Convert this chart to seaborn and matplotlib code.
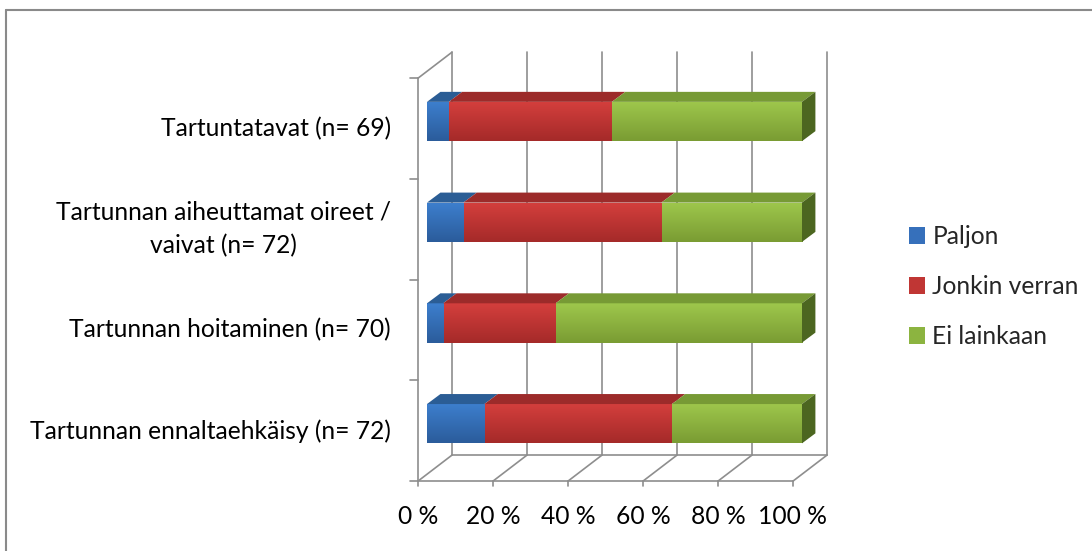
import matplotlib
matplotlib.use("Agg")
import numpy as np
import pandas as pd
import matplotlib.pyplot as plt
from matplotlib.patches import Polygon, Patch
from matplotlib.lines import Line2D
from matplotlib.colors import LinearSegmentedColormap
import seaborn as sns

# data (share of answers, %)
categories = [
    "Tartuntatavat (n= 69)",
    "Tartunnan aiheuttamat oireet /\nvaivat (n= 72)",
    "Tartunnan hoitaminen (n= 70)",
    "Tartunnan ennaltaehkäisy (n= 72)",
]
series_names = ["Paljon", "Jonkin verran", "Ei lainkaan"]
paljon = [5.8, 9.7, 4.3, 15.3]
jonkin_verran = [43.5, 52.8, 30.0, 50.0]
ei_lainkaan = [50.7, 37.5, 65.7, 34.7]
x_ticks = [0, 20, 40, 60, 80, 100]
x_tick_labels = ["0 %", "20 %", "40 %", "60 %", "80 %", "100 %"]

# colours: (front top, front bottom, top face)
COLORS = {
    "Paljon": ("#3d7fce", "#2b5c9b", "#2b5d95"),
    "Jonkin verran": ("#d43f3d", "#a52a29", "#9c2b2a"),
    "Ei lainkaan": ("#9ec74c", "#7a9c33", "#779a35"),
}
LEGEND_COLORS = {"Paljon": "#3670bb", "Jonkin verran": "#c03634", "Ei lainkaan": "#8cb440"}
END_FACE = "#4c6620"
GRID = "#8e8e8e"
FONT = "Lato"
FS = 17.7

W, H = 1092, 551
X0_PX, SX = 427.0, 3.75       # pixel of 0 %, pixels per percent
Y0_PX, SY = 121.5, 100.73     # pixel of first category centre, pixels per category
BAR_H = 0.39
DX, DY = 13.4 / SX, -10.0 / SY        # bar depth
FX, FY = -9.0 / SX, 0.07              # front plane offset from bar front
BX, BY = FX + 34.0 / SX, FY - 26.0 / SY  # back wall offset

sns.set_theme(style="white")
plt.rcParams["font.family"] = [FONT, "DejaVu Sans"]

df = pd.DataFrame({
    "category": categories,
    "Paljon": paljon,
    "Jonkin verran": jonkin_verran,
    "Ei lainkaan": ei_lainkaan,
})
df["cum1"] = df["Paljon"]
df["cum2"] = df["cum1"] + df["Jonkin verran"]
df["cum3"] = df["cum2"] + df["Ei lainkaan"]

fig = plt.figure(figsize=(W / 100, H / 100), dpi=100)
ax = fig.add_axes([0, 0, 1, 1])

# stacked bars: draw the totals first, then the shorter parts over them
layers = [("cum3", "Ei lainkaan", 3.0), ("cum2", "Jonkin verran", 3.2), ("cum1", "Paljon", 3.4)]
for col, name, z in layers:
    n_before = len(ax.patches)
    sns.barplot(data=df, x=col, y="category", orient="h", color=COLORS[name][0],
                width=BAR_H, saturation=1, zorder=z, edgecolor="none", linewidth=0, ax=ax)
    cmap = LinearSegmentedColormap.from_list(name, [COLORS[name][0], COLORS[name][1]])
    grad = np.linspace(0, 1, 64).reshape(-1, 1)
    for p in ax.patches[n_before:]:
        x, y, w, h = p.get_x(), p.get_y(), p.get_width(), p.get_height()
        im = ax.imshow(grad, cmap=cmap, aspect="auto", extent=(x, x + w, y + h, y),
                       zorder=z + 0.05, interpolation="bilinear")
        im.set_clip_path(p)

# 3d faces of the bars
for i in range(len(categories)):
    top, bot = i - BAR_H / 2, i + BAR_H / 2
    edges = [0, df["cum1"][i], df["cum2"][i], df["cum3"][i]]
    for k, name in enumerate(series_names):
        l, r = edges[k], edges[k + 1]
        ax.add_patch(Polygon([(l, top), (r, top), (r + DX, top + DY), (l + DX, top + DY)],
                             closed=True, facecolor=COLORS[name][2], edgecolor="none", zorder=3.6))
    r = edges[-1]
    ax.add_patch(Polygon([(r, top), (r + DX, top + DY), (r + DX, bot + DY), (r, bot)],
                         closed=True, facecolor=END_FACE, edgecolor="none", zorder=3.6))

# walls, floor and gridlines
n = len(categories)
bounds = [k - 0.5 + FY for k in range(n + 1)]
f_top, f_bot = bounds[0], bounds[-1]
b_top, b_bot = f_top + (BY - FY), f_bot + (BY - FY)
lw = 1.2
for v in x_ticks:
    ax.plot([v + BX, v + BX], [b_top, b_bot], color=GRID, lw=lw, zorder=1)
    ax.plot([v + FX, v + BX], [f_bot, b_bot], color=GRID, lw=lw, zorder=1)
    ax.plot([v + FX, v + FX], [f_bot, f_bot + 5 / SY], color=GRID, lw=lw, zorder=1)
ax.plot([FX, 100 + FX], [f_bot, f_bot], color=GRID, lw=lw, zorder=1)
ax.plot([BX, 100 + BX], [b_bot, b_bot], color=GRID, lw=lw, zorder=1)
ax.plot([FX, FX], [f_top, f_bot], color=GRID, lw=lw, zorder=1)
ax.plot([FX, BX], [f_top, b_top], color=GRID, lw=lw, zorder=1)
for b in bounds:
    ax.plot([FX - 8 / SX, FX], [b, b], color=GRID, lw=lw, zorder=1)

# labels
for i, cat in enumerate(categories):
    ax.text((391 - X0_PX) / SX, i + FY, cat, ha="right", va="center",
            multialignment="center", fontsize=FS, color="black", linespacing=1.55)
for v, lab in zip(x_ticks, x_tick_labels):
    ax.text(v + FX, (517 - Y0_PX) / SY, lab, ha="center", va="center",
            fontsize=FS, color="black")

ax.set_xlim(-X0_PX / SX, (W - X0_PX) / SX)
ax.set_ylim((H - Y0_PX) / SY, -Y0_PX / SY)
ax.axis("off")

handles = [Patch(facecolor=LEGEND_COLORS[s], edgecolor="none") for s in series_names]
fig.legend(handles, series_names, loc="upper left",
           bbox_to_anchor=(909 / W, 1 - 225 / H), frameon=False, fontsize=FS,
           handlelength=0.65, handleheight=0.65, handletextpad=0.3,
           labelspacing=1.1, borderpad=0, borderaxespad=0)

# outer chart border (only top and left are visible in the crop)
fig.add_artist(Line2D([6 / W, 1], [1 - 9.5 / H, 1 - 9.5 / H], transform=fig.transFigure,
                      color="#8a8a8a", lw=1.5))
fig.add_artist(Line2D([6 / W, 6 / W], [0, 1 - 9.5 / H], transform=fig.transFigure,
                      color="#8a8a8a", lw=1.5))

fig.savefig("out.png", dpi=100)
